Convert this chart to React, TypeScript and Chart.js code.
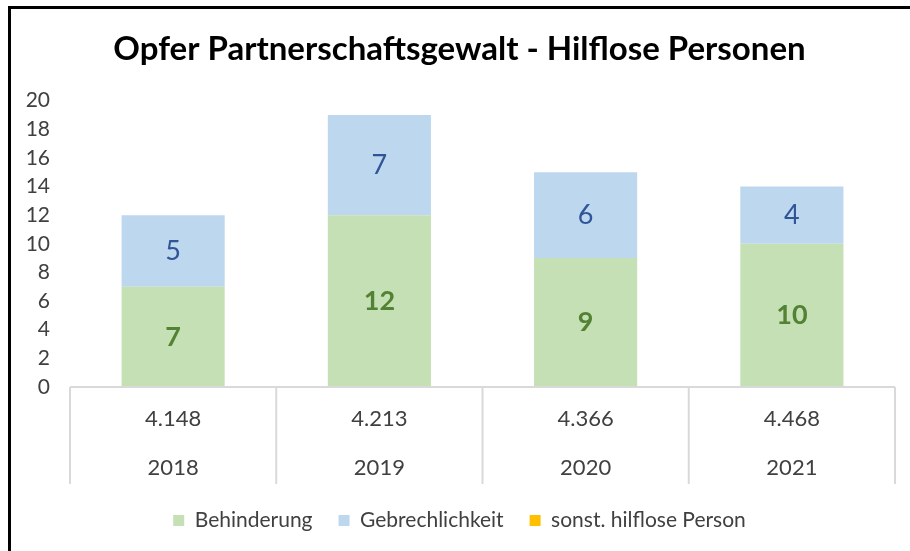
import React, { useEffect, useRef } from 'react';
import { Chart, registerables } from 'chart.js';

Chart.register(...registerables);

const years = ['2018', '2019', '2020', '2021'];
const totals = ['4.148', '4.213', '4.366', '4.468'];
const behinderung = [7, 12, 9, 10];
const gebrechlichkeit = [5, 7, 6, 4];
const sonstige = [0, 0, 0, 0];
const seriesNames = ['Behinderung', 'Gebrechlichkeit', 'sonst. hilflose Person'];
const yMin = 0;
const yMax = 20;
const yStep = 2;

const FONT = 'Lato, "Open Sans", "DejaVu Sans", sans-serif';
const TEXT = '#404040';

const tablePlugin = {
  id: 'categoryTable',
  afterDraw(chart: any) {
    const ctx = chart.ctx;
    const x = chart.scales.x;
    const area = chart.chartArea;
    const n = years.length;
    const bounds: number[] = [x.left];
    for (let i = 0; i < n - 1; i++) {
      bounds.push((x.getPixelForValue(i) + x.getPixelForValue(i + 1)) / 2);
    }
    bounds.push(x.right);
    ctx.save();
    ctx.strokeStyle = '#D9D9D9';
    ctx.lineWidth = 2;
    ctx.beginPath();
    ctx.moveTo(x.left, area.bottom);
    ctx.lineTo(x.right, area.bottom);
    for (const b of bounds) {
      ctx.moveTo(b, area.bottom);
      ctx.lineTo(b, x.bottom);
    }
    ctx.stroke();
    ctx.fillStyle = TEXT;
    ctx.font = `22px ${FONT}`;
    ctx.textAlign = 'center';
    ctx.textBaseline = 'middle';
    for (let i = 0; i < n; i++) {
      const cx = x.getPixelForValue(i);
      ctx.fillText(totals[i], cx, area.bottom + 32);
      ctx.fillText(years[i], cx, area.bottom + 81);
    }
    ctx.restore();
  },
};

const valueLabelPlugin = {
  id: 'valueLabels',
  afterDatasetsDraw(chart: any) {
    const ctx = chart.ctx;
    const styles = [
      { color: '#548235', weight: 'bold' },
      { color: '#2F5597', weight: 'normal' },
    ];
    ctx.save();
    ctx.textAlign = 'center';
    ctx.textBaseline = 'middle';
    styles.forEach((st, di) => {
      const meta = chart.getDatasetMeta(di);
      const data = chart.data.datasets[di].data as number[];
      meta.data.forEach((el: any, i: number) => {
        if (!data[i]) return;
        ctx.fillStyle = st.color;
        ctx.font = `${st.weight} 27px ${FONT}`;
        ctx.fillText(String(data[i]), el.x, (el.y + el.base) / 2);
      });
    });
    ctx.restore();
  },
};

export default function App() {
  const ref = useRef<HTMLCanvasElement>(null);
  useEffect(() => {
    if (!ref.current) return;
    const chart = new Chart(ref.current, {
      type: 'bar',
      data: {
        labels: years,
        datasets: [
          { label: seriesNames[0], data: behinderung, backgroundColor: '#C5E0B4', borderWidth: 0, barPercentage: 0.5, categoryPercentage: 1 },
          { label: seriesNames[1], data: gebrechlichkeit, backgroundColor: '#BDD7EE', borderWidth: 0, barPercentage: 0.5, categoryPercentage: 1 },
          { label: seriesNames[2], data: sonstige, backgroundColor: '#FFC000', borderWidth: 0, barPercentage: 0.5, categoryPercentage: 1 },
        ],
      },
      options: {
        animation: false,
        responsive: false,
        layout: { padding: { left: 24, right: 15, top: 0, bottom: 10 } },
        plugins: {
          title: {
            display: true,
            text: 'Opfer Partnerschaftsgewalt - Hilflose Personen',
            color: '#000000',
            font: { family: FONT, size: 33, weight: 'bold' },
            padding: { top: 30, bottom: 31 },
          },
          legend: {
            position: 'bottom',
            labels: {
              boxWidth: 11,
              boxHeight: 11,
              padding: 26,
              color: TEXT,
              font: { family: FONT, size: 21 },
            },
          },
          tooltip: { enabled: false },
        },
        scales: {
          x: {
            stacked: true,
            grid: { display: false },
            border: { display: false },
            ticks: { display: false },
            afterFit: (s: any) => { s.height = 97; },
          },
          y: {
            stacked: true,
            min: yMin,
            max: yMax,
            grid: { display: false, drawTicks: false },
            border: { display: false },
            ticks: { stepSize: yStep, padding: 20, color: TEXT, font: { family: FONT, size: 21 } },
            afterFit: (s: any) => { s.width = 46; },
          },
        },
      },
      plugins: [tablePlugin, valueLabelPlugin],
    });
    return () => chart.destroy();
  }, []);
  return (
    <div style={{ position: 'absolute', left: 0, top: 0, width: 910, height: 551, overflow: 'hidden', background: '#fff' }}>
      <canvas ref={ref} width={910} height={551} style={{ position: 'absolute', left: 0, top: 0 }} />
      <div style={{ position: 'absolute', left: 8, top: 6, width: 920, height: 560, borderTop: '3px solid #000', borderLeft: '3px solid #000', pointerEvents: 'none' }} />
    </div>
  );
}
